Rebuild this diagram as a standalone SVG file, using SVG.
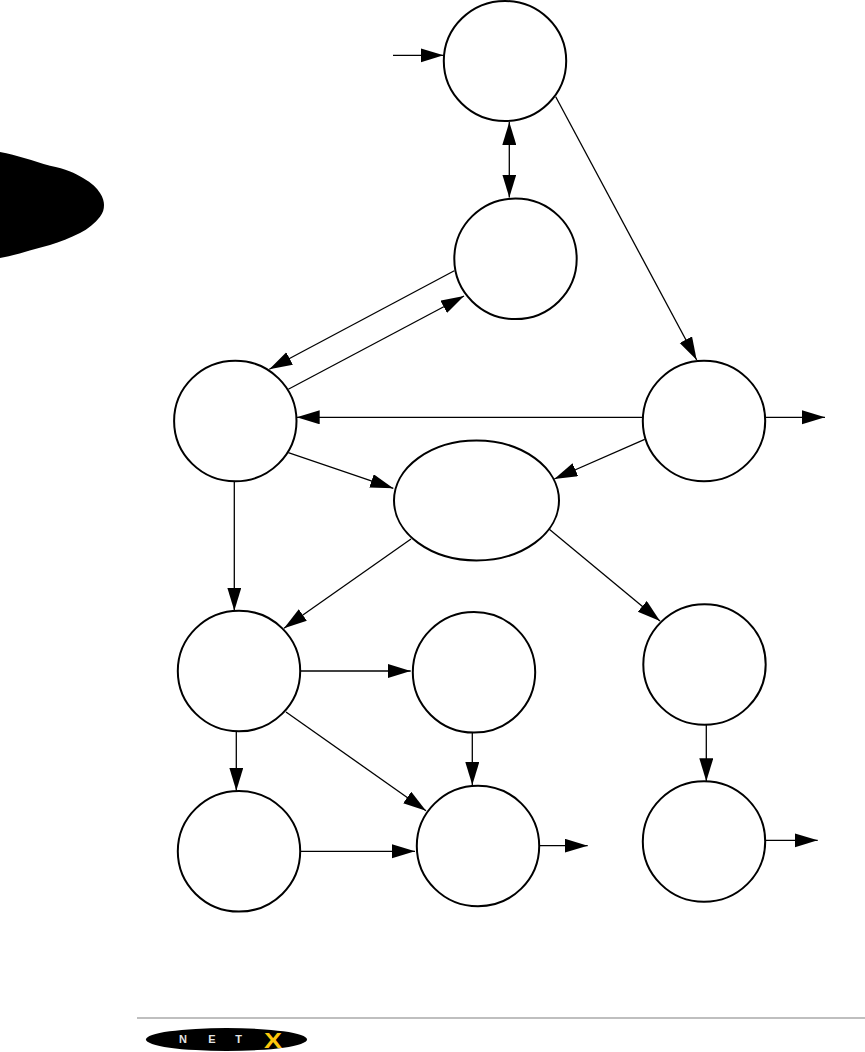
<svg xmlns="http://www.w3.org/2000/svg" width="865" height="1052" viewBox="0 0 865 1052">
<style>
.n{fill:#fff;stroke:#000;stroke-width:2}
.c{fill:none;stroke:#000;stroke-width:1.3;marker-end:url(#a)}
.l{font-family:"Liberation Sans",Arial,sans-serif;font-size:11px;font-weight:bold;fill:#e4e4e4;text-anchor:middle}
</style>
<defs>
<marker id="a" markerUnits="userSpaceOnUse" markerWidth="25" markerHeight="16" refX="23" refY="7" orient="auto"><path d="M0 0L23 7L0 14Z" fill="#000"/></marker>
<marker id="b" markerUnits="userSpaceOnUse" markerWidth="25" markerHeight="16" refX="0" refY="7" orient="auto"><path d="M23 0L0 7L23 14Z" fill="#000"/></marker>
</defs>
<rect width="865" height="1052" fill="#fff"/>
<path id="tab" d="M0 152C17 155 33 161 50 165.700C66 169 75 173 83 178C92 183 97 188 100 193C103 197 104 202 104 205C104 209 103 213 100 216.700C95 223 88 229 80 233C70 238 60 242 50 245C33 249 17 255 0 258Z" fill="#000"/>
<g id="connectors">
<path class="c" d="M393 55.300H443.500"/>
<path class="c" d="M509.300 122V197.500" marker-start="url(#b)"/>
<path class="c" d="M555.700 96.700L696.700 360"/>
<path class="c" d="M454.300 270.700L269.300 369.300"/>
<path class="c" d="M288.300 389.300L464 296"/>
<path class="c" d="M642.700 417.300H296.700"/>
<path class="c" d="M765.700 417.300H825"/>
<path class="c" d="M644.700 439.300L554.300 479"/>
<path class="c" d="M288.300 452.700L393.300 488.300"/>
<path class="c" d="M234.300 481.500V610.700"/>
<path class="c" d="M411 539L284 628.300"/>
<path class="c" d="M549.300 529.300L660 621"/>
<path class="c" d="M300.300 671H410.700"/>
<path class="c" d="M236.300 731.500V790.700"/>
<path class="c" d="M286 712L426 810.700"/>
<path class="c" d="M472.300 732.500V785"/>
<path class="c" d="M300.300 851.300H415"/>
<path class="c" d="M539 845.700H587.700"/>
<path class="c" d="M706.300 725V781.300"/>
<path class="c" d="M765.700 840.300H817.700"/>
</g>
<g id="n1"><ellipse class="n" cx="505" cy="61" rx="61.200" ry="60"/></g>
<g id="n2"><ellipse class="n" cx="515.500" cy="258.800" rx="61.200" ry="60.300"/></g>
<g id="n3"><ellipse class="n" cx="235.300" cy="421" rx="61.200" ry="60.300"/></g>
<g id="n4"><ellipse class="n" cx="704" cy="421" rx="61.200" ry="60.300"/></g>
<g id="n5"><ellipse class="n" cx="476.500" cy="500.500" rx="82.500" ry="60"/></g>
<g id="n6"><ellipse class="n" cx="239" cy="671" rx="61.200" ry="60.300"/></g>
<g id="n7"><ellipse class="n" cx="474" cy="672.300" rx="61.200" ry="60.300"/></g>
<g id="n8"><ellipse class="n" cx="704.500" cy="664.500" rx="61.200" ry="60.300"/></g>
<g id="n9"><ellipse class="n" cx="239" cy="851.300" rx="61.200" ry="60.300"/></g>
<g id="n10"><ellipse class="n" cx="478" cy="846" rx="61.200" ry="60.300"/></g>
<g id="n11"><ellipse class="n" cx="704" cy="841.500" rx="61.200" ry="60.300"/></g>
<g id="footer">
<path d="M137 1018H865" stroke="#aaa" stroke-width="1.5"/>
<ellipse cx="226.500" cy="1039.500" rx="80.500" ry="11.500" fill="#000"/>
<text class="l" x="183" y="1043">N</text>
<text class="l" x="212" y="1043">E</text>
<text class="l" x="238.500" y="1043">T</text>
<text x="273" y="1047.500" font-family="'Liberation Sans',Arial,sans-serif" font-size="22" font-weight="bold" fill="#fdc70c" text-anchor="middle" textLength="18" lengthAdjust="spacingAndGlyphs">X</text>
</g>
</svg>
